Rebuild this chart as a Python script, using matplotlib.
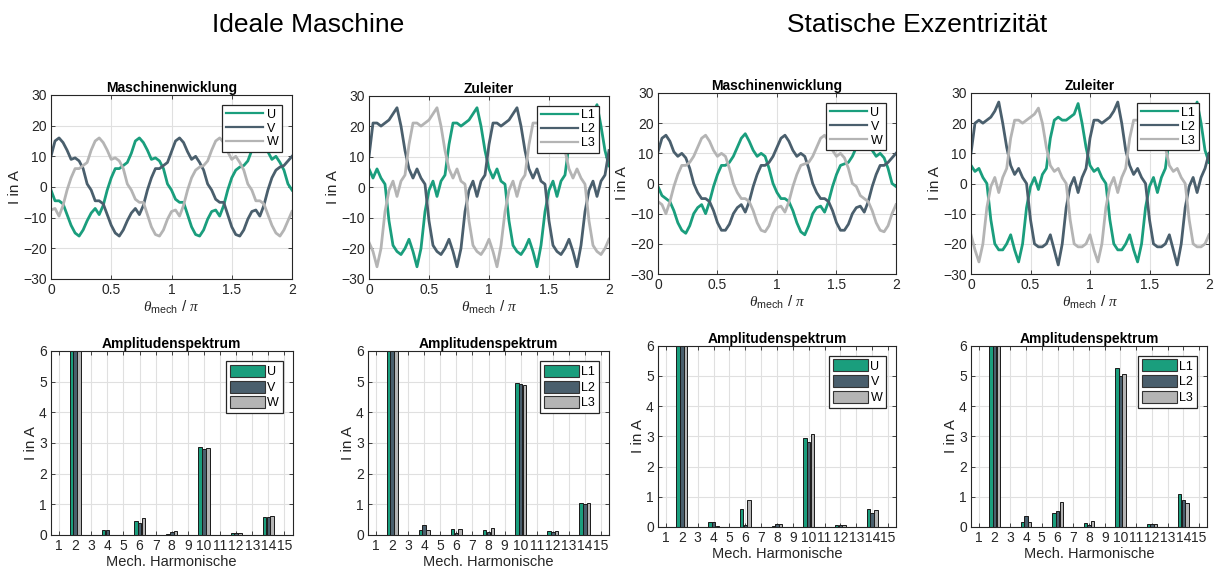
import numpy as np
import matplotlib
matplotlib.use("Agg")
import matplotlib.pyplot as plt
from matplotlib.patches import Patch
from matplotlib.lines import Line2D

plt.rcParams['font.family'] = ['Liberation Sans', 'DejaVu Sans']
plt.rcParams['mathtext.fontset'] = 'custom'
plt.rcParams['mathtext.rm'] = 'Liberation Sans'
plt.rcParams['mathtext.it'] = 'Liberation Serif:italic'

# ---------------- data ----------------
theta = np.arange(61) / 30.0   # theta_mech / pi sample grid

# Ideale Maschine - Maschinenwicklung
U_ideal = [-1, -4.5, -4.5, -5.5, -9, -12.5, -15, -16, -14, -11, -8.5, -7, -9, -6, -1, 3, 6, 6, 7, 8, 11, 15, 16, 14.5, 12, 9, 9.5, 8.5, 6, 1,
           -1, -4, -5, -5, -9, -13, -15.5, -16, -14, -10.5, -8, -7.5, -9.5, -6, -1, 3, 5.5, 6.5, 7, 8.5, 12, 15, 16, 14.5, 11.5, 9, 10, 8, 5.5, 1, -1]
V_ideal = [10, 15, 16, 14.5, 12, 9, 9.5, 8.5, 6, 1, -1, -4.5, -4.5, -5.5, -9, -12.5, -15, -16, -14, -11, -8.5, -7, -9, -6, -1, 3, 6, 6, 7, 8,
           11.5, 15, 16, 14.5, 11.5, 9, 10, 8, 5.5, 1, -1, -4, -5, -5, -9, -13, -15.5, -16, -14, -10.5, -8, -7.5, -9.5, -6, -1, 3, 5.5, 6.5, 7, 8.5, 10]
W_ideal = [-7.5, -7, -9.5, -6, -1, 3, 6, 6, 7, 8, 12, 15, 16, 14.5, 12, 9, 9.5, 8.5, 6, 1,
           -1, -4, -5, -5, -9, -13, -15.5, -16, -14, -10.5, -8, -7.5, -9.5, -6, -1, 3, 5.5, 6.5, 7, 8.5, 12, 15, 16, 14.5, 11.5, 9, 10, 8, 5.5, 1,
           -1, -4.5, -4.5, -5.5, -9, -12.5, -15, -16, -14, -11, -8]

# Ideale Maschine - Zuleiter
L1_ideal = [6, 3, 6, 3, 1, -11, -19, -21, -22, -20, -17, -21, -26, -20, -8, -1, 2, -3, 2, 4, 14, 21, 21, 20, 21, 22, 24, 26, 20, 12,
            6, 3, 6, 2, 1, -11, -19, -21, -22, -20, -17, -21, -26, -19, -8, -1, 2, -3, 2, 4, 14, 21, 21, 20, 21, 22, 24, 27, 20, 12, 7]
L2_ideal = [10, 21, 21, 20, 21, 22, 24, 26, 20, 12, 6, 3, 6, 3, 1, -11, -19, -21, -22, -20, -17, -21, -26, -20, -8, -1, 2, -3, 2, 4,
            14, 21, 21, 20, 21, 22, 24, 26, 20, 12, 6, 3, 6, 2, 1, -11, -19, -21, -22, -20, -17, -21, -26, -19, -8, -1, 2, -3, 2, 4, 12]
L3_ideal = [-18, -21, -26, -20, -8, -1, 2, -3, 2, 4, 14, 21, 21, 20, 21, 22, 24, 26, 20, 12,
            6, 3, 6, 2, 1, -11, -19, -21, -22, -20, -17, -21, -26, -19, -8, -1, 2, -3, 2, 4, 14, 21, 21, 20, 21, 22, 24, 26, 20, 12,
            6, 3, 6, 3, 1, -11, -19, -21, -22, -20, -17]

# Statische Exzentrizitaet - Maschinenwicklung
U_ecc = [-1, -4, -5, -6, -9, -13, -15.5, -16.5, -14, -10, -8, -7, -10, -6, -1, 3, 6, 6, 7, 9, 12, 15, 16.5, 14, 11, 9, 10, 9, 5, 0,
         -3, -5, -5, -6, -9, -13, -16, -17, -14, -10, -8, -7.5, -9.5, -6, -1, 3, 6, 6.5, 7, 9, 12, 15, 16, 14, 11, 9, 10, 8.5, 5, 0, -1]
V_ecc = [10.5, 15, 16, 14, 10.5, 9, 10, 8.5, 5, 0, -3, -5, -5, -6, -9, -13, -15.5, -15.5, -13.5, -10, -8, -7, -9.5, -6, -1, 3, 6, 6, 7, 9,
         12, 15, 16, 14, 11, 9, 10, 9, 5, 0, -3, -5, -5, -6, -9, -13, -15.5, -15.5, -13.5, -10, -8, -7.5, -9.5, -6, -1, 3, 6, 6, 7, 8.5, 10]
W_ecc = [-6, -7, -10, -6, -1, 3, 6, 6, 7, 9, 12, 15, 16, 14, 11, 9, 10, 9, 5, 0,
         -3, -5, -5, -6, -9, -13, -15.5, -16, -14, -10, -8, -7.5, -9.5, -6, -1, 3, 6, 6.5, 7, 9, 12, 15, 16, 14, 11, 9, 10, 8.5, 5, 0,
         -1, -4, -5, -6, -9, -13, -15.5, -16, -14, -10, -7]

# Statische Exzentrizitaet - Zuleiter
L1_ecc = [6, 4, 5, 2, 0, -12, -20, -22, -22, -20, -17, -22, -26, -20, -8, -1, 2, -2, 3, 5, 15, 21, 22, 21, 21, 22, 23, 26.5, 20, 12,
          6, 4, 5, 2, 0, -12, -20, -22, -22, -20, -17, -22, -26, -20, -8, -1, 2, -3, 2, 5, 15, 21, 22, 21, 21, 22, 23, 27, 20, 11, 7]
L2_ecc = [10, 20, 21, 20, 21, 22, 24, 27, 20, 12, 6, 3, 5, 2, 0, -12, -20, -21, -21, -20, -17, -22, -27, -20, -8, -1, 2, -3, 2, 5,
          15, 21, 21, 20, 21, 22, 24, 27, 20, 11, 6, 3, 5, 2, 0, -12, -20, -21, -21, -20, -17, -22, -27, -20, -8, -1, 2, -3, 2, 5, 10]
L3_ecc = [-17, -22, -26, -20, -8, -1, 2, -3, 2, 5, 15, 21, 21, 20, 21, 22, 23, 25, 20, 12,
          6, 4, 5, 2, 0, -12, -20, -21, -21, -20, -17, -22, -26, -20, -8, -1, 2, -3, 2, 5, 15, 21, 21, 20, 21, 22, 23, 25, 20, 12,
          6, 4, 5, 2, 0, -12, -20, -21, -21, -20, -17]

# Amplitude spectra (mech. harmonics 1..15)
harmonics = list(range(1, 16))
spec_U_ideal  = [0, 13.6, 0, 0.15, 0, 0.45, 0, 0.03, 0, 2.87, 0, 0.06, 0, 0.59, 0]
spec_V_ideal  = [0, 13.5, 0, 0.16, 0, 0.38, 0, 0.10, 0, 2.82, 0, 0.07, 0, 0.59, 0]
spec_W_ideal  = [0, 13.6, 0, 0.01, 0, 0.55, 0, 0.12, 0, 2.84, 0, 0.07, 0, 0.62, 0]
spec_L1_ideal = [0, 23.5, 0, 0.15, 0, 0.18, 0, 0.15, 0, 4.95, 0, 0.12, 0, 1.05, 0]
spec_L2_ideal = [0, 23.4, 0, 0.32, 0, 0.08, 0, 0.10, 0, 4.92, 0, 0.10, 0, 1.00, 0]
spec_L3_ideal = [0, 23.5, 0, 0.15, 0, 0.20, 0, 0.22, 0, 4.90, 0, 0.12, 0, 1.04, 0]
spec_U_ecc    = [0, 13.8, 0, 0.17, 0, 0.58, 0, 0.04, 0, 2.95, 0, 0.05, 0, 0.60, 0]
spec_V_ecc    = [0, 13.4, 0, 0.17, 0, 0.07, 0, 0.09, 0, 2.82, 0, 0.07, 0, 0.47, 0]
spec_W_ecc    = [0, 13.6, 0, 0.03, 0, 0.90, 0, 0.11, 0, 3.08, 0, 0.06, 0, 0.55, 0]
spec_L1_ecc   = [0, 23.6, 0, 0.18, 0, 0.47, 0, 0.14, 0, 5.25, 0, 0.11, 0, 1.10, 0]
spec_L2_ecc   = [0, 23.3, 0, 0.36, 0, 0.52, 0, 0.08, 0, 5.00, 0, 0.09, 0, 0.90, 0]
spec_L3_ecc   = [0, 23.5, 0, 0.18, 0, 0.83, 0, 0.20, 0, 5.07, 0, 0.11, 0, 0.78, 0]

names_phase = ['U', 'V', 'W']
names_line = ['L1', 'L2', 'L3']
colors = ['#1a9e7d', '#4a5f6d', '#b4b4b4']

# ---------------- figure ----------------
W, H = 1214, 571
fig = plt.figure(figsize=(W / 100, H / 100), dpi=100)

def rect(l, r, t, b):
    return [l / W, (H - b) / H, (r - l) / W, (b - t) / H]

ink = '#262626'

def style(ax):
    for s in ax.spines.values():
        s.set_color(ink)
        s.set_linewidth(0.8)
    ax.tick_params(direction='in', length=3, width=0.6, colors=ink, labelsize=10,
                   top=True, right=True, pad=3)
    ax.grid(True, color='#e0e0e0', linewidth=0.8)
    ax.set_axisbelow(True)

def time_plot(pos, series, names, title):
    ax = fig.add_axes(rect(*pos))
    style(ax)
    for y, c in zip(series, colors):
        ax.plot(theta, y, color=c, lw=2.0, solid_joinstyle='round')
    ax.set_xlim(0, 2)
    ax.set_ylim(-30, 30)
    ax.set_xticks([0, 0.5, 1, 1.5, 2])
    ax.set_xticklabels(['0', '0.5', '1', '1.5', '2'])
    ax.set_yticks([-30, -20, -10, 0, 10, 20, 30])
    ax.set_title(title, fontsize=10, fontweight='bold', pad=2)
    ax.set_ylabel('I in A', fontsize=11, color=ink, labelpad=1)
    ax.set_xlabel(r'$\theta_{\mathrm{mech}}$ / $\pi$', fontsize=11, color=ink, labelpad=1)
    handles = [Line2D([], [], color=c, lw=1.6) for c in colors]
    leg = ax.legend(handles, names, loc='upper right', fontsize=9, handlelength=3.0,
                    handletextpad=0.25, borderpad=0.3, labelspacing=0.15, fancybox=False,
                    framealpha=1, edgecolor=ink, borderaxespad=0.8)
    leg.get_frame().set_linewidth(0.9)
    leg.set_zorder(10)
    return ax

def spec_plot(pos, series, names, title):
    ax = fig.add_axes(rect(*pos))
    style(ax)
    x = np.array(harmonics)
    w = 0.22
    for i, (y, c) in enumerate(zip(series, colors)):
        ax.bar(x + (i - 1) * 0.235, y, width=w, color=c, edgecolor='#1a1a1a', linewidth=0.7)
    ax.set_xlim(0.5, 15.5)
    ax.set_ylim(0, 6)
    ax.set_xticks(harmonics)
    ax.set_yticks(range(0, 7))
    ax.set_title(title, fontsize=10, fontweight='bold', pad=2)
    ax.set_ylabel('I in A', fontsize=11, color=ink, labelpad=1)
    ax.set_xlabel('Mech. Harmonische', fontsize=10.5, color=ink, labelpad=1)
    handles = [Patch(facecolor=c, edgecolor='#333333', linewidth=0.8) for c in colors]
    leg = ax.legend(handles, names, loc='upper right', fontsize=9, handlelength=2.8,
                    handleheight=1.1, handletextpad=0.2, borderpad=0.3, labelspacing=0.2,
                    fancybox=False, framealpha=1, edgecolor=ink, borderaxespad=0.8)
    leg.get_frame().set_linewidth(0.9)
    leg.set_zorder(10)
    return ax

time_plot((51, 292, 95, 279), [U_ideal, V_ideal, W_ideal], names_phase, 'Maschinenwicklung')
time_plot((369, 609, 95.5, 279), [L1_ideal, L2_ideal, L3_ideal], names_line, 'Zuleiter')
time_plot((658, 896, 93, 274), [U_ecc, V_ecc, W_ecc], names_phase, 'Maschinenwicklung')
time_plot((971, 1209, 93, 274), [L1_ecc, L2_ecc, L3_ecc], names_line, 'Zuleiter')

spec_plot((51, 292.5, 351, 535), [spec_U_ideal, spec_V_ideal, spec_W_ideal], names_phase, 'Amplitudenspektrum')
spec_plot((368, 609, 351, 535), [spec_L1_ideal, spec_L2_ideal, spec_L3_ideal], names_line, 'Amplitudenspektrum')
spec_plot((658, 896, 345.5, 527), [spec_U_ecc, spec_V_ecc, spec_W_ecc], names_phase, 'Amplitudenspektrum')
spec_plot((971, 1207, 345.5, 527), [spec_L1_ecc, spec_L2_ecc, spec_L3_ecc], names_line, 'Amplitudenspektrum')

fig.text(308 / W, 1 - 25 / H, 'Ideale Maschine', fontsize=19, ha='center', va='center')
fig.text(917 / W, 1 - 25 / H, 'Statische Exzentrizität', fontsize=19, ha='center', va='center')

fig.savefig('out.png', dpi=100, facecolor='white')
